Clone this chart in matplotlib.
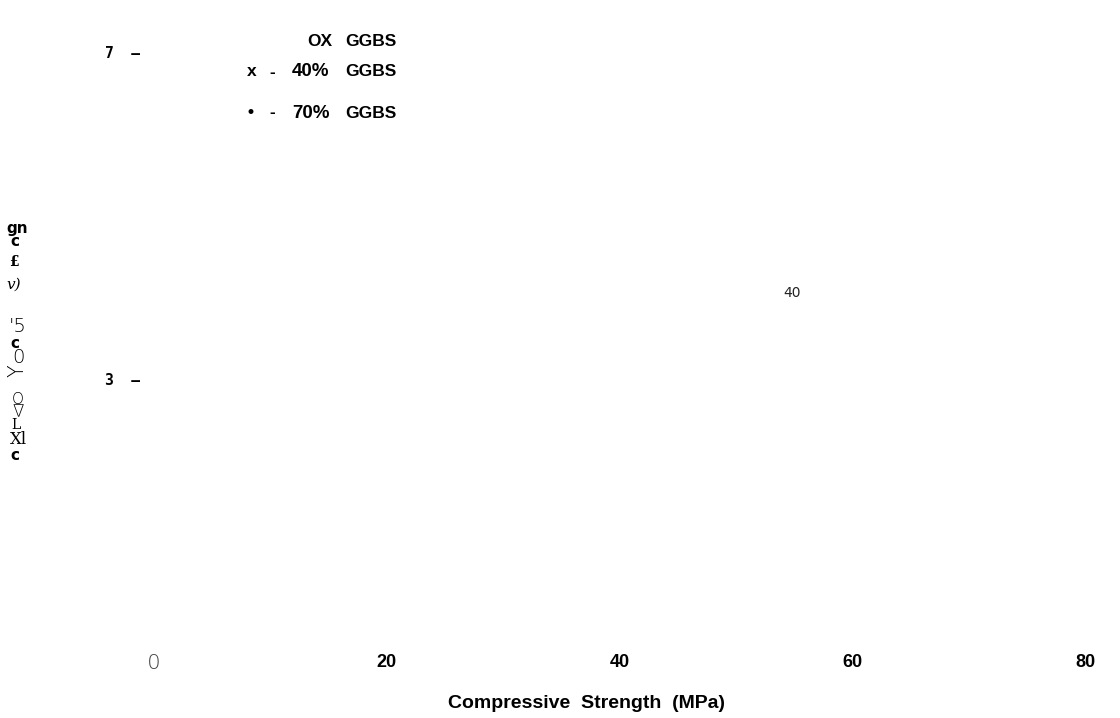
import matplotlib
matplotlib.use("Agg")
import matplotlib.pyplot as plt

# eixos e rótulos
x_ticks = [0, 20, 40, 60, 80]
x_tick_labels = ["0", "20", "40", "60", "80"]
y_ticks = [3, 7]
y_tick_labels = ["3  \u2013", "7  \u2013"]
x_label = "Compressive  Strength  (MPa)"

# legenda (texto solto): símbolo, traço, teor, sufixo
leg_simbolo = ["OX", "x", "\u2022"]
leg_teor = ["", "40%", "70%"]
leg_sufixo = "GGBS"

# anotação solta no meio do gráfico
nota_x, nota_y, nota_txt = 54.8, 4.05, "40"

# caracteres do rótulo vertical do eixo y
y_label_chars = ["gn", "c", "\u00a3", "v)", "'5", "c", "0", "Y", "O", "\u2207", "L", "Xl", "c"]

W, H = 1120, 718
fig = plt.figure(figsize=(W / 100, H / 100), dpi=100)

def fx(px):
    return px / W

def fy(py):
    return 1 - py / H

# área do gráfico: x=0 em 154px, x=80 em 1085px; y=7 em 52px, y=3 em 379px
left, right, top, bottom = 154, 1085, 30, 640
ax = fig.add_axes([fx(left), fy(bottom), fx(right - left), (bottom - top) / H])
ax.set_xlim(0, 80)
upp = 4 / (379 - 52)
ax.set_ylim(3 - (bottom - 379) * upp, 7 + (52 - top) * upp)
for s in ax.spines.values():
    s.set_visible(False)

ax.set_xticks(x_ticks)
ax.set_xticklabels(x_tick_labels, fontfamily="Liberation Sans", fontweight="bold", fontsize=13)
ax.tick_params(axis="x", length=0, pad=10)
lbl0 = ax.get_xticklabels()[0]
lbl0.set_fontweight("light")
lbl0.set_fontfamily("Open Sans")
lbl0.set_fontsize(15)
lbl0.set_color("#444444")

ax.set_yticks(y_ticks)
ax.set_yticklabels(y_tick_labels, fontfamily="DejaVu Sans Mono", fontweight="bold", fontsize=10.5)
ax.tick_params(axis="y", length=0, pad=10)

ax.set_xlabel(x_label, fontfamily="Liberation Sans", fontweight="bold", fontsize=14)
ax.xaxis.set_label_coords((587 - left) / (right - left), (bottom - 703) / (bottom - top))
ax.xaxis.label.set_va("center")

ax.text(nota_x, nota_y, nota_txt, ha="center", va="center", fontsize=10, color="#222222")

# legenda montada em pedaços
fonte_leg = dict(fontfamily="Liberation Sans", fontweight="bold", fontsize=12.5, va="center")
leg_y = [42, 72, 113]
for i, py in enumerate(leg_y):
    fig.text(fx(396), fy(py), leg_sufixo, ha="right", **fonte_leg)
    if leg_teor[i]:
        fig.text(fx(247), fy(py), leg_simbolo[i], ha="left", **fonte_leg)
        fig.text(fx(269), fy(py), "-", ha="left", **fonte_leg)
        fig.text(fx(292), fy(py), leg_teor[i], ha="left", fontstretch="expanded",
                 **{**fonte_leg, "fontsize": 13.5})
    else:
        fig.text(fx(307), fy(py), leg_simbolo[i], ha="left", **fonte_leg)

# rótulo vertical montado caractere por caractere
char_pos = [(17, 228), (15, 242), (14, 262), (14, 285), (18, 327), (15, 343),
            (18, 357), (17, 371), (18, 399), (18, 412), (16, 425), (18, 440), (15, 456)]
char_style = [("bold", 0, "DejaVu Sans", 11, "normal"), ("bold", 0, "DejaVu Sans", 11, "normal"),
              ("bold", 0, "DejaVu Serif", 10, "normal"), ("normal", 0, "DejaVu Serif", 11, "italic"),
              ("light", 0, "DejaVu Sans", 14, "normal"), ("bold", 0, "DejaVu Sans", 11, "normal"),
              ("light", 0, "DejaVu Sans", 14, "normal"), ("light", 90, "DejaVu Sans", 15, "normal"),
              ("light", 0, "DejaVu Sans", 11, "normal"), ("light", 0, "DejaVu Sans", 12, "normal"),
              ("light", 0, "DejaVu Serif", 10, "normal"), ("light", 0, "DejaVu Serif", 12, "normal"),
              ("bold", 0, "DejaVu Sans", 11, "normal")]
for ch, (px, py), (wt, rot, fam, tam, est) in zip(y_label_chars, char_pos, char_style):
    fig.text(fx(px), fy(py), ch, ha="center", va="center", fontsize=tam,
             fontweight=wt, rotation=rot, fontfamily=fam, fontstyle=est)

fig.savefig("out.png", dpi=100)
